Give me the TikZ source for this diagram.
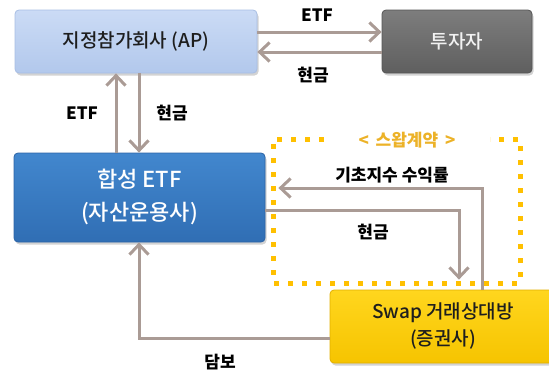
\documentclass[tikz,border=0pt]{standalone}
\usepackage{fontspec}
\setmainfont{Noto Sans CJK KR}
\newfontfamily\krmed{Noto Sans CJK KR Medium}
\usetikzlibrary{arrows.meta,shadows}
\definecolor{conncol}{RGB}{170,155,149}
\definecolor{dotcol}{RGB}{255,192,0}
\definecolor{swaplbl}{RGB}{236,178,40}
\begin{document}
\begin{tikzpicture}[x=1pt,y=-1pt,
  boxbase/.style={rounded corners=4pt, inner sep=0pt, line width=0.8pt,
    drop shadow={opacity=0.35, shadow xshift=1.5pt, shadow yshift=-2.5pt}},
  apbox/.style={boxbase, top color={rgb,255:red,203;green,219;blue,245}, bottom color={rgb,255:red,178;green,200;blue,236}, draw={rgb,255:red,168;green,190;blue,228}, text={rgb,255:red,30;green,30;blue,30}, font=\krmed\fontsize{19}{22}\selectfont},
  invbox/.style={boxbase, top color={rgb,255:red,125;green,125;blue,125}, bottom color={rgb,255:red,95;green,95;blue,95}, draw={rgb,255:red,85;green,85;blue,85}, text={rgb,255:red,242;green,242;blue,242}, font=\krmed\fontsize{19}{22}\selectfont},
  synbox/.style={boxbase, top color={rgb,255:red,66;green,135;blue,206}, bottom color={rgb,255:red,48;green,110;blue,180}, draw={rgb,255:red,44;green,100;blue,166}, text=white, font=\krmed\fontsize{22}{33}\selectfont},
  swapbox/.style={boxbase, top color={rgb,255:red,255;green,214;blue,30}, bottom color={rgb,255:red,246;green,196;blue,0}, draw={rgb,255:red,226;green,176;blue,0}, text={rgb,255:red,30;green,30;blue,30}, font=\krmed\fontsize{19}{27}\selectfont},
  conn/.style={draw=conncol, line width=3pt, -{Straight Barb[length=10pt,width=19pt]}},
  lbl/.style={font=\fontsize{17}{20}\selectfont\bfseries, text=black, inner sep=0pt}
]
\useasboundingbox (0,0) rectangle (549,372);

% boxes
\node[apbox, minimum width=242pt, minimum height=63pt] (ap) at (136,41.5) {\raisebox{-3pt}{지정참가회사 (AP)}};
\node[invbox, minimum width=150pt, minimum height=63pt] (inv) at (457,41.5) {\raisebox{-4pt}{투자자}};
\node[synbox, minimum width=251pt, minimum height=89pt] (syn) at (139.5,197.5) {\raisebox{-1pt}{\begin{tabular}{@{}c@{}}합성 ETF\\(자산운용사)\end{tabular}}};
\node[swapbox, minimum width=226pt, minimum height=73pt] (swap) at (443,326.5) {\raisebox{-8pt}{\begin{tabular}{@{}c@{}}Swap 거래상대방\\(증권사)\end{tabular}}};

% swap contract dotted frame
\draw[dotcol, line width=5pt, dash pattern=on 5pt off 9pt]
  (324,139) -- (273,139) -- (273,283) -- (520,283) -- (520,139) -- (490,139);
\node[font=\fontsize{17}{20}\selectfont\bfseries, text=swaplbl, inner sep=0pt] (swaplabel) at (407,140) {<\, 스왑계약 \,>};

% connectors
\draw[conn] (ap.east |- 0,32) -- (inv.west |- 0,32);
\draw[conn] (inv.west |- 0,52) -- (ap.east |- 0,52);
\draw[conn] (syn.north -| 116,0) -- (ap.south -| 116,0);
\draw[conn] (ap.south -| 139,0) -- (syn.north -| 139,0);
\draw[conn] (swap.north -| 482,0) |- ([xshift=13pt]syn.east |- 0,188);
\draw[conn] (syn.east |- 0,210) -| ([yshift=10pt]swap.north -| 459,0);
\draw[conn] (swap.west |- 0,338) -| (syn.south -| 139,0);

% labels
\node[lbl] (l1) at (317,15) {ETF};
\node[lbl] (l2) at (313,75) {현금};
\node[lbl] (l3) at (82,113) {ETF};
\node[lbl] (l4) at (172,113) {현금};
\node[lbl] (l5) at (392,175) {기초지수 수익률};
\node[lbl] (l6) at (373,232) {현금};
\node[lbl] (l7) at (220,362) {담보};
\end{tikzpicture}
\end{document}
